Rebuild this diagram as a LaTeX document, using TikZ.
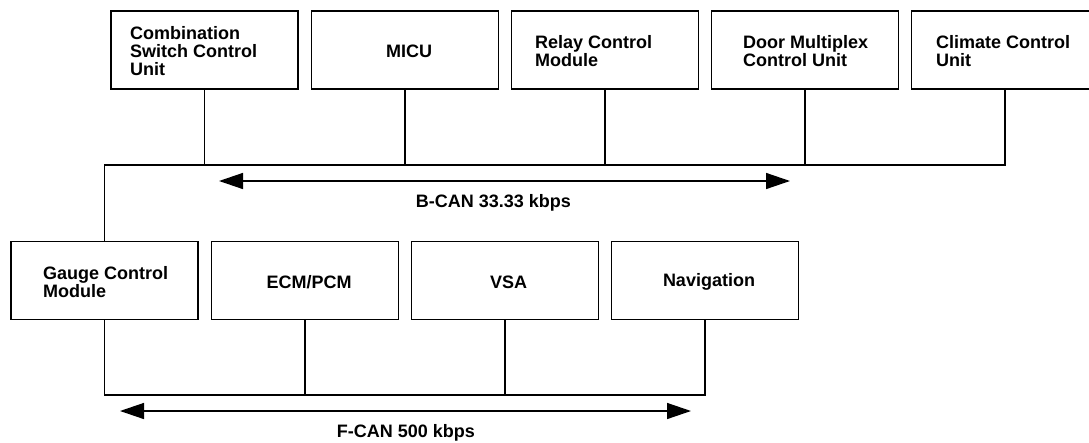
\documentclass[tikz,border=0pt]{standalone}
\usepackage{fontspec}
\setmainfont{Liberation Sans}
\usetikzlibrary{arrows.meta}

\tikzset{
  unitbox/.style={draw=black, line width=1.8pt, minimum width=187pt,
    minimum height=78pt, inner sep=0pt, outer sep=0pt},
  boxtext/.style={font=\fontsize{18}{18.2}\selectfont\bfseries, align=left,
    inner sep=0pt, text=black},
  wire/.style={draw=black, line width=1.2pt},
  busarrow/.style={draw=black, line width=1.4pt,
    {Triangle[length=24pt,width=16pt]}-{Triangle[length=24pt,width=16pt]}},
  buslabel/.style={font=\fontsize{18}{18.2}\selectfont\bfseries,
    inner sep=0pt, anchor=base, text=black}
}

\begin{document}
\begin{tikzpicture}[x=1pt,y=-1pt]
\useasboundingbox (0,0) rectangle (1089,442);

% B-CAN units
\node[unitbox] (cs)  at (204.5,50) {};
\node[unitbox] (micu) at (405,50) {};
\node[unitbox] (rcm) at (605,50) {};
\node[unitbox] (dmcu) at (805,50) {};
\node[unitbox] (ccu) at (1005,50) {};

\node[boxtext, anchor=west] (cs-t) at (130,51) {Combination\\Switch Control\\Unit};
\node[boxtext] (micu-t) at (409,51) {MICU};
\node[boxtext, anchor=west] (rcm-t) at (535,51) {Relay Control\\Module};
\node[boxtext, anchor=west] (dmcu-t) at (743,51) {Door Multiplex\\Control Unit};
\node[boxtext, anchor=west] (ccu-t) at (936,51) {Climate Control\\Unit};

% F-CAN units
\node[unitbox] (gcm) at (104.5,280.5) {};
\node[unitbox] (ecm) at (305,280.5) {};
\node[unitbox] (vsa) at (505,280.5) {};
\node[unitbox] (nav) at (705,280.5) {};

\node[boxtext, anchor=west] (gcm-t) at (43,282) {Gauge Control\\Module};
\node[boxtext] (ecm-t) at (309,282) {ECM/PCM};
\node[boxtext] (vsa-t) at (508.5,282) {VSA};
\node[boxtext] (nav-t) at (709,282) {Navigation};

% B-CAN bus
\coordinate (bL) at (104.5,165);
\coordinate (bR) at (1005,165);
\draw[wire] (gcm.north) -- (bL) -- (bR) -- (ccu.south);
\foreach \u in {cs,micu,rcm,dmcu}
  \draw[wire] (\u.south) -- (\u.south |- bL);

% F-CAN bus
\coordinate (fL) at (104.5,395);
\draw[wire] (gcm.south) -- (fL) -- (fL -| nav.south) -- (nav.south);
\foreach \u in {ecm,vsa}
  \draw[wire] (\u.south) -- (\u.south |- fL);

% data-rate arrows
\coordinate (bA1) at (219,181);
\coordinate (bA2) at (790,181);
\draw[busarrow] (bA1) -- (bA2);
\node[buslabel] (bcan) at (493.5,207.5) {B-CAN 33.33 kbps};

\coordinate (fA1) at (120,411);
\coordinate (fA2) at (691,411);
\draw[busarrow] (fA1) -- (fA2);
\node[buslabel] (fcan) at (406,437.5) {F-CAN 500 kbps};
\end{tikzpicture}
\end{document}
